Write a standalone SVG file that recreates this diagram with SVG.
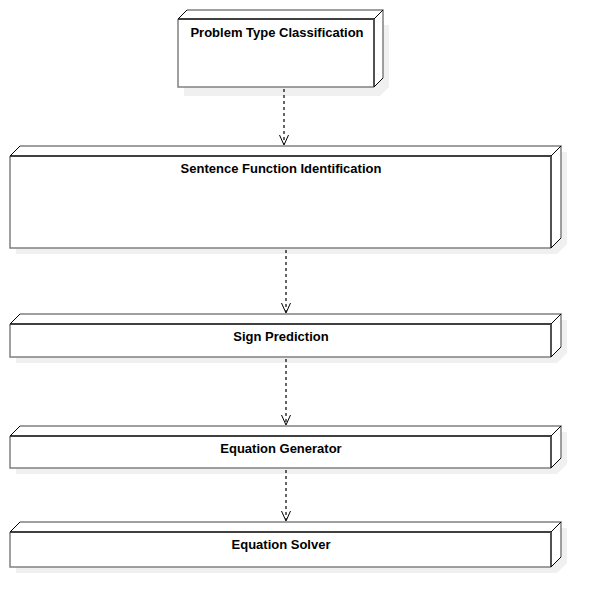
<svg xmlns="http://www.w3.org/2000/svg" width="602" height="609" viewBox="0 0 602 609">
<style>
.shadow{fill:#f0f0f0;stroke:none}
.face{fill:#ffffff;stroke:none}
.edge{fill:none;stroke:#808080;stroke-width:1.5}
.dark{fill:none;stroke:#404040;stroke-width:1.8}
.diag{fill:none;stroke:#000000;stroke-width:1}
.lbl{font-family:"Liberation Sans",Arial,sans-serif;font-weight:bold;font-size:13px;fill:#000000;text-anchor:middle}
.conn{fill:none;stroke:#000000;stroke-width:1.2;stroke-dasharray:3,3}
.head{fill:none;stroke:#000000;stroke-width:1}
</style>
<rect width="602" height="609" fill="#ffffff"/>

<g id="node-problem-type-classification">
<path class="shadow" d="M184,96 L184,34 L193,25 L389,25 L389,87 L380,96 Z"/>
<path class="face" d="M178,87 L178,19 L187,10 L383,10 L383,78 L374,87 Z"/>
<path class="edge" d="M187,10 L383,10 L383,78"/>
<path class="edge" d="M178,19 L178,87 L374,87"/>
<path class="dark" d="M178,19 L374,19 L374,87"/>
<path class="diag" d="M178,19 L187,10 M374,19 L383,10 M374,87 L383,78"/>
<text class="lbl" x="277" y="37">Problem Type Classification</text>
</g>

<g id="node-sentence-function-identification">
<path class="shadow" d="M16,254 L16,162 L26,152 L567,152 L567,244 L557,254 Z"/>
<path class="face" d="M10,248 L10,156 L20,146 L561,146 L561,238 L551,248 Z"/>
<path class="edge" d="M20,146 L561,146 L561,238"/>
<path class="edge" d="M10,156 L10,248 L551,248"/>
<path class="dark" d="M10,156 L551,156 L551,248"/>
<path class="diag" d="M10,156 L20,146 M551,156 L561,146 M551,248 L561,238"/>
<text class="lbl" x="281" y="173">Sentence Function Identification</text>
</g>

<g id="node-sign-prediction">
<path class="shadow" d="M16,363 L16,330 L26,320 L567,320 L567,353 L557,363 Z"/>
<path class="face" d="M10,357 L10,324 L20,314 L561,314 L561,347 L551,357 Z"/>
<path class="edge" d="M20,314 L561,314 L561,347"/>
<path class="edge" d="M10,324 L10,357 L551,357"/>
<path class="dark" d="M10,324 L551,324 L551,357"/>
<path class="diag" d="M10,324 L20,314 M551,324 L561,314 M551,357 L561,347"/>
<text class="lbl" x="281" y="341">Sign Prediction</text>
</g>

<g id="node-equation-generator">
<path class="shadow" d="M16,474 L16,442 L26,432 L567,432 L567,464 L557,474 Z"/>
<path class="face" d="M10,468 L10,436 L20,426 L561,426 L561,458 L551,468 Z"/>
<path class="edge" d="M20,426 L561,426 L561,458"/>
<path class="edge" d="M10,436 L10,468 L551,468"/>
<path class="dark" d="M10,436 L551,436 L551,468"/>
<path class="diag" d="M10,436 L20,426 M551,436 L561,426 M551,468 L561,458"/>
<text class="lbl" x="281" y="453">Equation Generator</text>
</g>

<g id="node-equation-solver">
<path class="shadow" d="M16,573 L16,538 L26,528 L567,528 L567,563 L557,573 Z"/>
<path class="face" d="M10,567 L10,532 L20,522 L561,522 L561,557 L551,567 Z"/>
<path class="edge" d="M20,522 L561,522 L561,557"/>
<path class="edge" d="M10,532 L10,567 L551,567"/>
<path class="dark" d="M10,532 L551,532 L551,567"/>
<path class="diag" d="M10,532 L20,522 M551,532 L561,522 M551,567 L561,557"/>
<text class="lbl" x="281" y="549">Equation Solver</text>
</g>

<g id="connectors">
<path class="conn" d="M284,89 L284,144"/>
<path class="head" d="M279.5,135 L284,145 L288.5,135"/>
<path class="conn" d="M286,250 L286,312"/>
<path class="head" d="M281.5,303 L286,313 L290.5,303"/>
<path class="conn" d="M286,359 L286,424"/>
<path class="head" d="M281.5,415 L286,425 L290.5,415"/>
<path class="conn" d="M286,470 L286,520"/>
<path class="head" d="M281.5,511 L286,521 L290.5,511"/>
</g>
</svg>
